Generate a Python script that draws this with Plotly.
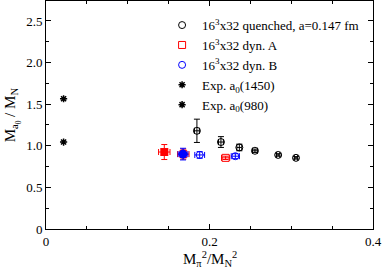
import plotly.graph_objects as go

# quenched 16^3x32
q_x = [0.1846, 0.214, 0.2365, 0.2556, 0.284, 0.3058]
q_y = [1.18, 1.045, 0.98, 0.94, 0.89, 0.855]
q_ey = [0.14, 0.065, 0.04, 0.02, 0.015, 0.015]
q_ex = [0.003, 0.003, 0.003, 0.003, 0.002, 0.002]

# dyn A
a_x = [0.168, 0.2197]
a_y = [0.90, 0.855]
a_ey = [0.06, 0.02]
a_ex = [0.007, 0.005]
# dyn A extrapolated (filled)
af_x = [0.1447]
af_y = [0.925]
af_ey = [0.09]
af_ex = [0.007]

# dyn B
b_x = [0.188, 0.2316]
b_y = [0.89, 0.875]
b_ey = [0.04, 0.03]
b_ex = [0.006, 0.005]
# dyn B extrapolated (filled)
bf_x = [0.1676]
bf_y = [0.90]
bf_ey = [0.07]
bf_ex = [0.006]

# experiment
e_x = [0.0215]
e1_y = [1.565]
e2_y = [1.045]

x_ticks = [0, 0.2, 0.4]
x_labels = ["0", "0.2", "0.4"]
y_ticks = [0, 0.5, 1.0, 1.5, 2.0, 2.5]
y_labels = ["0", "0.5", "1.0", "1.5", "2.0", "2.5"]

font_fam = "Liberation Serif"

fig = go.Figure()

def eb(arr, col):
    return dict(type="data", array=arr, visible=True, color=col, thickness=1, width=3)

fig.add_trace(go.Scatter(x=q_x, y=q_y, mode="markers",
                         name="16<sup>3</sup>x32 quenched, a=0.147 fm",
                         marker=dict(symbol="circle-open", size=7, color="black", line=dict(width=1)),
                         error_y=eb(q_ey, "black"), error_x=eb(q_ex, "black")))
fig.add_trace(go.Scatter(x=a_x, y=a_y, mode="markers",
                         name="16<sup>3</sup>x32 dyn. A",
                         marker=dict(symbol="square-open", size=7, color="red", line=dict(width=1)),
                         error_y=eb(a_ey, "red"), error_x=eb(a_ex, "red")))
fig.add_trace(go.Scatter(x=b_x, y=b_y, mode="markers",
                         name="16<sup>3</sup>x32 dyn. B",
                         marker=dict(symbol="circle-open", size=7, color="blue", line=dict(width=1)),
                         error_y=eb(b_ey, "blue"), error_x=eb(b_ex, "blue")))
fig.add_trace(go.Scatter(x=af_x, y=af_y, mode="markers", showlegend=False,
                         marker=dict(symbol="square", size=8, color="red"),
                         error_y=eb(af_ey, "red"), error_x=eb(af_ex, "red")))
fig.add_trace(go.Scatter(x=bf_x, y=bf_y, mode="markers", showlegend=False,
                         marker=dict(symbol="circle", size=9, color="blue"),
                         error_y=eb(bf_ey, "blue"), error_x=eb(bf_ex, "blue")))
fig.add_trace(go.Scatter(x=e_x, y=e1_y, mode="markers",
                         name="Exp. a<sub>0</sub>(1450)",
                         marker=dict(symbol="asterisk-open", size=6, color="black", line=dict(width=1.5, color="black"))))
fig.add_trace(go.Scatter(x=e_x, y=e2_y, mode="markers",
                         name="Exp. a<sub>0</sub>(980)",
                         marker=dict(symbol="asterisk-open", size=6, color="black", line=dict(width=1.5, color="black"))))

axis_common = dict(showgrid=False, zeroline=False, showline=True, linecolor="black", linewidth=1,
                   mirror="allticks", ticks="inside", ticklen=5, tickcolor="black",
                   tickfont=dict(family=font_fam, size=13, color="black"))

fig.update_xaxes(range=[0, 0.4], tickvals=x_ticks, ticktext=x_labels,
                 minor=dict(tickvals=[0.05, 0.1, 0.15, 0.25, 0.3, 0.35], ticks="inside", ticklen=3, tickcolor="black"),
                 **axis_common)
fig.update_yaxes(range=[0, 2.74], tickvals=y_ticks, ticktext=y_labels,
                 minor=dict(tickvals=[0.25, 0.75, 1.25, 1.75, 2.25], ticks="inside", ticklen=3, tickcolor="black"),
                 **axis_common)

fig.add_annotation(text="M<sub>π</sub><sup>2</sup>/M<sub>N</sub><sup>2</sup>",
                   xref="paper", yref="paper", x=0.5, y=-0.08, xanchor="center", yanchor="top",
                   showarrow=False, font=dict(family=font_fam, size=15, color="black"))
fig.add_annotation(text="M<sub>a<sub>0</sub></sub> / M<sub>N</sub>",
                   xref="paper", yref="paper", x=-0.103, y=0.5, xanchor="center", yanchor="middle",
                   textangle=-90, showarrow=False, font=dict(family=font_fam, size=15, color="black"))

fig.update_layout(width=382, height=270,
                  margin=dict(l=46, r=9, t=1, b=41),
                  plot_bgcolor="white", paper_bgcolor="white",
                  font=dict(family=font_fam, size=13, color="black"),
                  showlegend=True,
                  legend=dict(x=0.355, y=0.96, xanchor="left", yanchor="top",
                              bgcolor="rgba(0,0,0,0)", tracegroupgap=0,
                              font=dict(family=font_fam, size=13, color="black"),
                              itemsizing="trace", itemwidth=30))

fig.write_html("out.html", config={"displayModeBar": False},
               post_script="document.body.style.margin='0';document.body.style.padding='0';")
